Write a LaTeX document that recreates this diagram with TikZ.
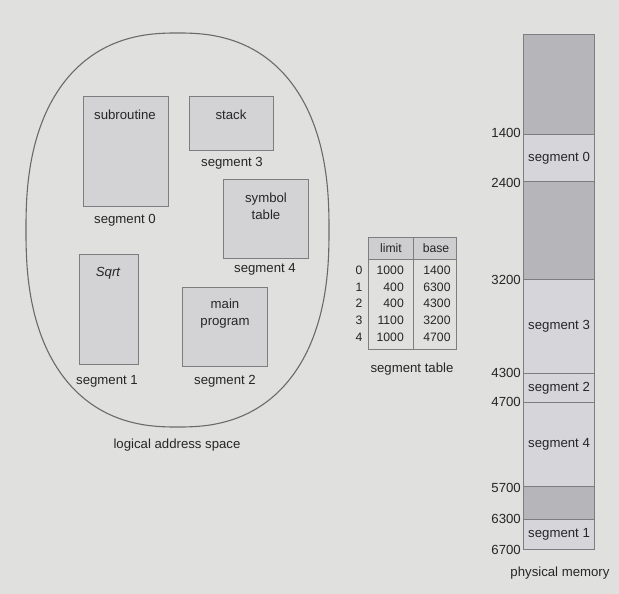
\documentclass[tikz,border=0pt]{standalone}
\usepackage{fontspec}
\setmainfont{Liberation Sans}
\definecolor{bgc}{RGB}{224,224,222}
\definecolor{boxc}{RGB}{211,211,213}
\definecolor{edgec}{RGB}{125,125,128}
\definecolor{darkc}{RGB}{182,182,186}
\definecolor{lightc}{RGB}{214,214,218}
\definecolor{txtc}{RGB}{38,38,38}
\definecolor{headc}{RGB}{206,206,208}
\begin{document}
\begin{tikzpicture}[x=1pt,y=-1pt,
  every node/.style={text=txtc,font=\fontsize{13.2}{15}\selectfont},
  segbox/.style={draw=edgec,fill=boxc,line width=1.2pt,inner sep=0pt,anchor=north west},
  memdark/.style={draw=edgec,fill=darkc,line width=1.1pt,inner sep=0pt,anchor=north west,minimum width=71},
  memlight/.style={draw=edgec,fill=lightc,line width=1.1pt,inner sep=0pt,anchor=north west,minimum width=71},
  tab/.style={font=\fontsize{12.2}{14}\selectfont,inner sep=0pt}
]
\fill[bgc] (0,0) rectangle (619,594);
\useasboundingbox (0,0) rectangle (619,594);

% logical address space (superellipse outline)
\draw[edgec!85!black,line width=1.1pt]
  plot[domain=1:359,samples=180,smooth]
  ({177.5+151.5*sign(cos(\x))*pow(abs(cos(\x)),2/2.4)},
   {230+197*sign(sin(\x))*pow(abs(sin(\x)),2/2.4)}) -- cycle;
\node (laslbl) at (177,445) {logical address space};

\node[segbox,minimum width=85,minimum height=110] (s0) at (83,96) {};
\node (s0t) at (125,115) {subroutine};
\node (s0l) at (125,220) {segment 0};

\node[segbox,minimum width=84,minimum height=54] (s3) at (189,96) {};
\node (s3t) at (231,115) {stack};
\node (s3l) at (232,163) {segment 3};

\node[segbox,minimum width=85,minimum height=79] (s4) at (223,179) {};
\node[align=center,font=\fontsize{13.2}{17}\selectfont] (s4t) at (266,206) {symbol\\table};
\node (s4l) at (265,269) {segment 4};

\node[segbox,minimum width=59,minimum height=110] (s1) at (79,254) {};
\node[font=\fontsize{13.2}{15}\selectfont\itshape] (s1t) at (108,273) {Sqrt};
\node (s1l) at (107,381) {segment 1};

\node[segbox,minimum width=85,minimum height=79] (s2) at (182,287) {};
\node[align=center,font=\fontsize{13.2}{17}\selectfont] (s2t) at (225,314) {main\\program};
\node (s2l) at (225,381) {segment 2};

% segment table
\node[draw=edgec,fill=headc,line width=1.1pt,inner sep=0pt,anchor=north west,minimum width=88,minimum height=22] (thead) at (368,237) {};
\node[draw=edgec,line width=1.1pt,inner sep=0pt,anchor=north west,minimum width=88,minimum height=112] (tbl) at (368,237) {};
\draw[edgec,line width=1.1pt] (tbl.north) ++(1,0) coordinate (dtop) -- (dtop |- tbl.south);
\node[tab] (hl) at (391,248) {limit};
\node[tab] (hb) at (436,248) {base};
\foreach \i/\lim/\bas/\yy in {0/1000/1400/270,1/400/6300/287,2/400/4300/303,3/1100/3200/320,4/1000/4700/337}{
  \node[tab] (ti\i) at (359,\yy) {\i};
  \node[tab,anchor=east] (tl\i) at (404,\yy) {\lim};
  \node[tab] (tb\i) at (437,\yy) {\bas};
}
\node (tlbl) at (412,369) {segment table};

% physical memory
\node[memdark,minimum height=100] (m1) at (523,34) {};
\node[memlight,minimum height=47] (m2) at (523,134) {segment 0};
\node[memdark,minimum height=98] (m3) at (523,181) {};
\node[memlight,minimum height=94] (m4) at (523,279) {segment 3};
\node[memlight,minimum height=29] (m5) at (523,373) {segment 2};
\node[memlight,minimum height=84] (m6) at (523,402) {segment 4};
\node[memdark,minimum height=33] (m7) at (523,486) {};
\node[memlight,minimum height=30] (m8) at (523,519) {segment 1};
\foreach \a/\yy in {1400/133,2400/183,3200/280,4300/373,4700/402,5700/488,6300/519,6700/550}{
  \node[anchor=east,inner sep=0pt] (a\a) at (521,\yy) {\a};
}
\node (pmlbl) at (560,573) {physical memory};
\end{tikzpicture}
\end{document}
